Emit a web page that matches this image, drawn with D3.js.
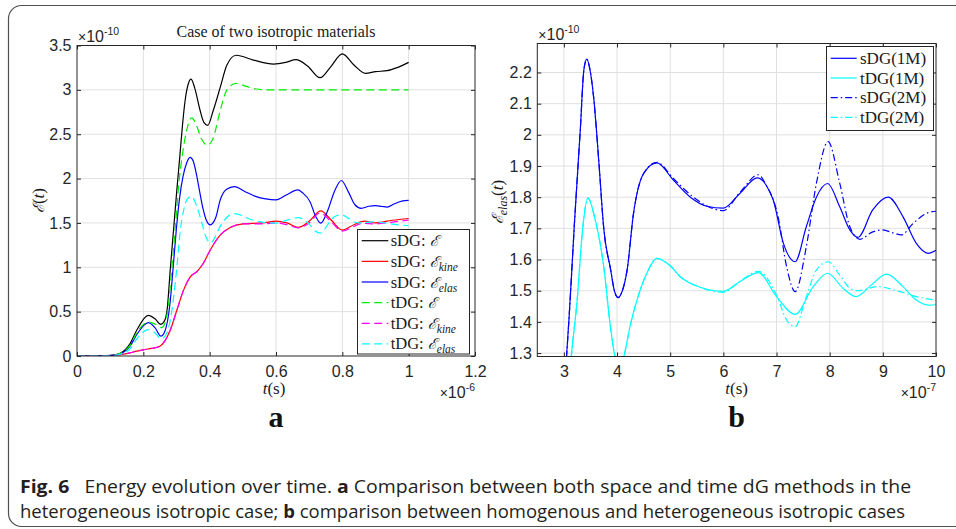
<!DOCTYPE html>
<html><head><meta charset="utf-8">
<script src="https://cdn.jsdelivr.net/npm/d3@7"></script>
<style>body{margin:0;background:#fff}svg{display:block}</style>
</head><body>
<svg id="c" width="956" height="529"></svg>
<script>
// ---------- DATA : panel a (t in 1e-6 s, energy in 1e-10) ----------
const sdgTotal = [[0,0],[0.05,0],[0.1,0.006],[0.13,0.03],[0.16,0.14],[0.18,0.29],[0.215,0.458],[0.235,0.42],[0.253,0.357],[0.263,0.39],[0.272,0.53],[0.281,0.966],[0.291,1.418],[0.301,1.87],[0.31,2.25],[0.318,2.6],[0.326,2.88],[0.335,3.06],[0.344,3.12],[0.355,3.02],[0.371,2.77],[0.383,2.63],[0.394,2.6],[0.411,2.77],[0.432,3.03],[0.452,3.28],[0.48,3.39],[0.532,3.336],[0.593,3.29],[0.63,3.31],[0.66,3.34],[0.695,3.27],[0.733,3.137],[0.765,3.26],[0.8,3.405],[0.835,3.28],[0.87,3.186],[0.9,3.205],[0.935,3.216],[0.965,3.25],[1.0,3.31]];
const sdgKine = [[0,0],[0.05,0],[0.1,0.004],[0.13,0.015],[0.16,0.035],[0.18,0.055],[0.2,0.07],[0.225,0.085],[0.25,0.11],[0.265,0.17],[0.281,0.29],[0.301,0.515],[0.321,0.74],[0.341,0.89],[0.361,0.95],[0.38,1.04],[0.401,1.19],[0.431,1.36],[0.462,1.448],[0.5,1.49],[0.56,1.5],[0.6,1.52],[0.633,1.5],[0.667,1.45],[0.7,1.52],[0.735,1.635],[0.767,1.53],[0.8,1.42],[0.835,1.48],[0.867,1.52],[0.9,1.5],[0.95,1.53],[1.0,1.55]];
const sdgElas = [[0,0],[0.05,0],[0.1,0.004],[0.13,0.025],[0.16,0.11],[0.18,0.24],[0.215,0.376],[0.235,0.32],[0.253,0.225],[0.265,0.28],[0.28,0.58],[0.29,1.0],[0.3,1.45],[0.31,1.8],[0.32,2.03],[0.33,2.17],[0.341,2.238],[0.35,2.2],[0.36,2.05],[0.37,1.85],[0.38,1.66],[0.39,1.53],[0.402,1.478],[0.41,1.5],[0.419,1.567],[0.431,1.748],[0.45,1.876],[0.475,1.91],[0.506,1.855],[0.538,1.8],[0.569,1.771],[0.6,1.76],[0.631,1.815],[0.666,1.872],[0.68,1.84],[0.703,1.737],[0.719,1.577],[0.735,1.497],[0.756,1.641],[0.775,1.844],[0.797,1.978],[0.819,1.844],[0.838,1.705],[0.857,1.665],[0.88,1.688],[0.9,1.695],[0.92,1.685],[0.935,1.679],[0.957,1.716],[0.982,1.748],[1.0,1.755]];
const tdgTotal = [[0,0],[0.05,0],[0.1,0.006],[0.13,0.03],[0.16,0.12],[0.18,0.26],[0.215,0.383],[0.235,0.36],[0.255,0.32],[0.265,0.37],[0.275,0.55],[0.285,0.95],[0.296,1.42],[0.306,1.9],[0.319,2.3],[0.331,2.55],[0.346,2.685],[0.36,2.6],[0.375,2.45],[0.393,2.377],[0.41,2.45],[0.432,2.77],[0.452,3.0],[0.48,3.073],[0.51,3.04],[0.54,3.01],[0.58,3.0],[0.7,3.0],[0.85,3.0],[1.0,3.0]];
const tdgKine = [[0,0],[0.05,0],[0.1,0.004],[0.13,0.015],[0.16,0.035],[0.18,0.055],[0.2,0.07],[0.225,0.085],[0.25,0.11],[0.265,0.17],[0.281,0.29],[0.301,0.515],[0.321,0.74],[0.341,0.89],[0.361,0.95],[0.38,1.04],[0.401,1.19],[0.431,1.36],[0.462,1.448],[0.5,1.49],[0.56,1.49],[0.6,1.5],[0.633,1.48],[0.667,1.444],[0.7,1.5],[0.733,1.613],[0.767,1.51],[0.8,1.407],[0.835,1.46],[0.86,1.495],[0.9,1.489],[0.95,1.51],[1.0,1.533]];
const tdgElas = [[0,0],[0.05,0],[0.1,0.003],[0.13,0.02],[0.16,0.08],[0.18,0.19],[0.215,0.297],[0.235,0.26],[0.255,0.195],[0.27,0.25],[0.281,0.4],[0.291,0.65],[0.301,1.0],[0.311,1.4],[0.322,1.65],[0.333,1.77],[0.345,1.8],[0.36,1.7],[0.375,1.52],[0.39,1.33],[0.403,1.275],[0.415,1.33],[0.43,1.45],[0.45,1.556],[0.475,1.604],[0.5,1.58],[0.52,1.545],[0.55,1.515],[0.6,1.498],[0.631,1.529],[0.666,1.56],[0.7,1.486],[0.719,1.406],[0.735,1.385],[0.756,1.481],[0.775,1.566],[0.797,1.593],[0.819,1.55],[0.838,1.508],[0.853,1.5],[0.89,1.513],[0.932,1.497],[0.963,1.481],[1.0,1.47]];

// ---------- DATA : panel b (t in 1e-7 s, energy in 1e-10) ----------
const sdg1M = [[2.95,1.1],[3.05,1.29],[3.1,1.42],[3.2,1.72],[3.31,2.02],[3.375,2.207],[3.43,2.243],[3.5,2.2],[3.56,2.12],[3.66,1.908],[3.75,1.7],[3.88,1.567],[3.95,1.5],[4.02,1.478],[4.1,1.5],[4.19,1.567],[4.31,1.748],[4.5,1.876],[4.75,1.91],[5.06,1.855],[5.38,1.8],[5.69,1.771],[6.0,1.765],[6.31,1.812],[6.64,1.862],[6.8,1.84],[6.94,1.79],[7.13,1.652],[7.35,1.593],[7.56,1.705],[7.75,1.8],[7.96,1.844],[8.19,1.769],[8.38,1.695],[8.53,1.671],[8.81,1.759],[9.1,1.8],[9.38,1.737],[9.63,1.652],[9.85,1.62],[10,1.63]];
const tdg1M = [[3.05,1.1],[3.14,1.29],[3.25,1.47],[3.345,1.684],[3.45,1.797],[3.59,1.727],[3.75,1.577],[3.875,1.385],[3.96,1.29],[4.04,1.255],[4.13,1.29],[4.25,1.39],[4.375,1.47],[4.56,1.556],[4.75,1.604],[5.0,1.58],[5.19,1.545],[5.5,1.515],[6.0,1.498],[6.31,1.529],[6.66,1.558],[7.0,1.481],[7.35,1.424],[7.69,1.513],[7.96,1.556],[8.25,1.508],[8.5,1.481],[8.78,1.518],[9.07,1.553],[9.38,1.513],[9.63,1.47],[9.85,1.454],[10,1.455]];
const sdg2M = [[2.95,1.1],[3.05,1.29],[3.1,1.42],[3.2,1.72],[3.31,2.02],[3.375,2.207],[3.43,2.243],[3.5,2.2],[3.56,2.12],[3.66,1.908],[3.75,1.7],[3.88,1.567],[3.95,1.5],[4.02,1.478],[4.1,1.5],[4.19,1.567],[4.31,1.748],[4.5,1.876],[4.75,1.912],[5.06,1.86],[5.38,1.808],[5.69,1.772],[6.0,1.757],[6.31,1.815],[6.66,1.872],[6.8,1.84],[7.03,1.737],[7.19,1.577],[7.35,1.497],[7.56,1.641],[7.75,1.844],[7.97,1.978],[8.19,1.844],[8.38,1.705],[8.57,1.665],[8.8,1.688],[9.0,1.695],[9.2,1.685],[9.35,1.679],[9.57,1.716],[9.82,1.748],[10,1.755]];
const tdg2M = [[3.05,1.1],[3.14,1.29],[3.25,1.47],[3.345,1.684],[3.45,1.797],[3.59,1.727],[3.75,1.577],[3.875,1.385],[3.96,1.29],[4.04,1.255],[4.13,1.29],[4.25,1.39],[4.375,1.47],[4.56,1.556],[4.75,1.604],[5.0,1.58],[5.19,1.545],[5.5,1.515],[6.0,1.495],[6.31,1.53],[6.66,1.562],[7.0,1.486],[7.19,1.406],[7.35,1.385],[7.56,1.481],[7.75,1.566],[7.97,1.593],[8.19,1.55],[8.38,1.508],[8.53,1.5],[8.9,1.513],[9.32,1.497],[9.63,1.481],[10,1.47]];

// ---------- ticks & labels ----------
const xTicksA = [0,0.2,0.4,0.6,0.8,1,1.2];
const yTicksA = [0,0.5,1,1.5,2,2.5,3,3.5];
const xTicksB = [3,4,5,6,7,8,9,10];
const yTicksB = [1.3,1.4,1.5,1.6,1.7,1.8,1.9,2,2.1,2.2];
const legendA = [['sDG',''],['sDG','kine'],['sDG','elas'],['tDG',''],['tDG','kine'],['tDG','elas']];
const legendB = ['sDG(1M)','tDG(1M)','sDG(2M)','tDG(2M)'];
const titleA = 'Case of two isotropic materials';
const expA = ['-10','-6'], expB = ['-10','-7'];
const caption1 = [['Fig. 6',true],['   Energy evolution over time. ',false],['a',true],[' Comparison between both space and time dG methods in the',false]];
const caption2 = [['heterogeneous isotropic case; ',false],['b',true],[' comparison between homogenous and heterogeneous isotropic cases',false]];

// ---------- drawing ----------
const svg = d3.select('#c');
const SANS = 'Liberation Sans, Arial, sans-serif';
const SERIF = 'Liberation Serif, Times New Roman, serif';
const AX = '#262626';

svg.append('rect').attr('x',8.5).attr('y',5.5).attr('width',1000).attr('height',521)
  .attr('rx',13).attr('fill','none').attr('stroke','#505050').attr('stroke-width',1.2);

const xA = d3.scaleLinear([0,1.2],[77,475]);
const yA = d3.scaleLinear([0,3.5],[356,45.5]);
const xB = d3.scaleLinear([2.5,10],[537.3,936]);
const yB = d3.scaleLinear([1.289,2.293],[356.5,43.5]);

function panel(id, x, y, xt, yt) {
  const [X0,X1] = x.range(), [Y0,Y1] = y.range();
  const g = svg.append('g');
  g.append('g').selectAll('line').data(xt.filter(d=>x(d)>X0+0.5 && x(d)<X1-0.5)).join('line')
    .attr('x1',d=>x(d)).attr('x2',d=>x(d)).attr('y1',Y0).attr('y2',Y1).attr('stroke','#e0e0e0');
  g.append('g').selectAll('line').data(yt.filter(d=>y(d)<Y0-0.5 && y(d)>Y1+0.5)).join('line')
    .attr('y1',d=>y(d)).attr('y2',d=>y(d)).attr('x1',X0).attr('x2',X1).attr('stroke','#e0e0e0');
  svg.append('clipPath').attr('id',id).append('rect').attr('x',X0).attr('y',Y1).attr('width',X1-X0).attr('height',Y0-Y1);
  const lines = svg.append('g').attr('clip-path',`url(#${id})`);
  return {g, lines};
}
function frame(x, y, xt, yt) {
  const [X0,X1] = x.range(), [Y0,Y1] = y.range();
  const st = s => s.attr('font-family',SANS).attr('font-size',16).style('color',AX)
                   .call(a=>a.select('.domain').remove());
  svg.append('g').attr('transform',`translate(0,${Y0})`)
    .call(d3.axisBottom(x).tickValues(xt).tickFormat(d=>String(d)).tickSize(-4).tickPadding(9.5)).call(st);
  svg.append('g').attr('transform',`translate(0,${Y1})`)
    .call(d3.axisTop(x).tickValues(xt).tickFormat('').tickSize(-4)).call(st);
  svg.append('g').attr('transform',`translate(${X0},0)`)
    .call(d3.axisLeft(y).tickValues(yt).tickFormat(d=>String(d)).tickSize(-4).tickPadding(5.5)).call(st);
  svg.append('g').attr('transform',`translate(${X1},0)`)
    .call(d3.axisRight(y).tickValues(yt).tickFormat('').tickSize(-4)).call(st);
  svg.append('rect').attr('x',X0).attr('y',Y1).attr('width',X1-X0).attr('height',Y0-Y1)
    .attr('fill','none').attr('stroke',AX).attr('stroke-width',1);
}
function curve(layer, x, y, data, color, dash) {
  const line = d3.line().x(d=>x(d[0])).y(d=>y(d[1])).curve(d3.curveMonotoneX);
  layer.append('path').attr('d',line(data)).attr('fill','none').attr('stroke',color)
    .attr('stroke-width',1.2).attr('stroke-dasharray',dash||null);
}
function expLabel(xp, yp, exp, anchor) {
  const t = svg.append('text').attr('x',xp).attr('y',yp).attr('font-family',SANS).attr('fill',AX)
    .attr('text-anchor',anchor);
  t.append('tspan').attr('font-size',14).text('\u00d7');
  t.append('tspan').attr('font-size',16).text('10');
  t.append('tspan').attr('font-size',10.5).attr('dy',-7.5).text(exp);
}
const DASH = '8,4.5', DASHDOT = '7,3,1.5,3';

// ----- panel a -----
const pa = panel('clipA', xA, yA, xTicksA, yTicksA);
const seriesA = [sdgTotal, sdgKine, sdgElas, tdgTotal, tdgKine, tdgElas];
const colA = ['#000000','#ff0000','#0000ff','#00ee00','#ff00ff','#00ffff'];
const dashA = [null,null,null,DASH,DASH,DASH];
seriesA.forEach((s,i)=>curve(pa.lines, xA, yA, s, colA[i], dashA[i]));
frame(xA, yA, xTicksA, yTicksA);

svg.append('text').attr('x',276).attr('y',36.5).attr('text-anchor','middle')
  .attr('font-family',SERIF).attr('font-size',16).attr('fill','#1a1a1a').text(titleA);
expLabel(78, 42, expA[0], 'start');
expLabel(475, 398, expA[1], 'end');

// legend a
const lgA = svg.append('g');
lgA.append('rect').attr('x',357.5).attr('y',229.5).attr('width',112).attr('height',124.5)
  .attr('fill','#fff').attr('stroke',AX);
legendA.forEach((d,i)=>{
  const cy = 240.7 + i*20.65;
  lgA.append('line').attr('x1',361.7).attr('x2',388.3).attr('y1',cy).attr('y2',cy)
    .attr('stroke',colA[i]).attr('stroke-width',1.2).attr('stroke-dasharray',dashA[i]);
  const t = lgA.append('text').attr('x',390.7).attr('y',cy+5.5).attr('font-family',SERIF)
    .attr('font-size',16.5).attr('fill','#1a1a1a');
  t.append('tspan').text(d[0]+': ');
  t.append('tspan').attr('font-family','DejaVu Serif, serif').attr('font-style','italic').attr('font-size',15).text('\u2130');
  if (d[1]) t.append('tspan').attr('font-style','italic').attr('font-size',11.5).attr('dy',4).text(d[1]);
});

// axis labels a
{
  const t = svg.append('text').attr('x',274).attr('y',393.5).attr('text-anchor','middle')
    .attr('font-family',SERIF).attr('font-size',17).attr('fill','#1a1a1a');
  t.append('tspan').attr('font-style','italic').text('t');
  t.append('tspan').text('(s)');
  const g = svg.append('g').attr('transform','translate(44,200.5) rotate(-90)');
  const u = g.append('text').attr('text-anchor','middle').attr('font-family',SERIF)
    .attr('font-size',17).attr('fill','#1a1a1a');
  u.append('tspan').attr('font-family','DejaVu Serif, serif').attr('font-style','italic').attr('font-size',15.5).text('\u2130');
  u.append('tspan').text('(');
  u.append('tspan').attr('font-style','italic').text('t');
  u.append('tspan').text(')');
  svg.append('text').attr('x',276).attr('y',427).attr('text-anchor','middle')
    .attr('font-family',SERIF).attr('font-weight','bold').attr('font-size',30).attr('fill','#111').text('a');
}

// ----- panel b -----
const pb = panel('clipB', xB, yB, xTicksB, yTicksB);
const seriesB = [sdg1M, tdg1M, sdg2M, tdg2M];
const colB = ['#0000ff','#00ffff','#0000ff','#00ffff'];
const dashB = [null,null,DASHDOT,DASHDOT];
seriesB.forEach((s,i)=>curve(pb.lines, xB, yB, s, colB[i], dashB[i]));
frame(xB, yB, xTicksB, yTicksB);
expLabel(538.3, 40, expB[0], 'start');
expLabel(936, 398, expB[1], 'end');

const lgB = svg.append('g');
lgB.append('rect').attr('x',826.5).attr('y',46.5).attr('width',107).attr('height',84)
  .attr('fill','#fff').attr('stroke',AX);
legendB.forEach((d,i)=>{
  const cy = 58.3 + i*19.67;
  lgB.append('line').attr('x1',830.7).attr('x2',856.7).attr('y1',cy).attr('y2',cy)
    .attr('stroke',colB[i]).attr('stroke-width',1.2).attr('stroke-dasharray',dashB[i]);
  lgB.append('text').attr('x',860).attr('y',cy+5.8).attr('font-family',SERIF)
    .attr('font-size',17).attr('fill','#1a1a1a').text(d);
});
{
  const t = svg.append('text').attr('x',736.7).attr('y',393.5).attr('text-anchor','middle')
    .attr('font-family',SERIF).attr('font-size',17).attr('fill','#1a1a1a');
  t.append('tspan').attr('font-style','italic').text('t');
  t.append('tspan').text('(s)');
  const g = svg.append('g').attr('transform','translate(503,202) rotate(-90)');
  const u = g.append('text').attr('text-anchor','middle').attr('font-family',SERIF)
    .attr('font-size',17).attr('fill','#1a1a1a');
  u.append('tspan').attr('font-family','DejaVu Serif, serif').attr('font-style','italic').attr('font-size',15.5).text('\u2130');
  u.append('tspan').attr('font-style','italic').attr('font-size',12).attr('dy',4).text('elas');
  u.append('tspan').attr('dy',-4).text('(');
  u.append('tspan').attr('font-style','italic').text('t');
  u.append('tspan').text(')');
  svg.append('text').attr('x',736.7).attr('y',427).attr('text-anchor','middle')
    .attr('font-family',SERIF).attr('font-weight','bold').attr('font-size',30).attr('fill','#111').text('b');
}

// ----- caption -----
function captionLine(parts, yp, target) {
  const g = svg.append('g').attr('transform',`translate(20,${yp})`);
  const t = g.append('text').attr('font-family','Open Sans, Noto Sans, sans-serif').attr('font-size',18)
    .attr('fill','#231f20').style('white-space','pre');
  parts.forEach(p=>t.append('tspan').attr('font-weight',p[1]?'bold':'normal').text(p[0]));
  const w = t.node().getComputedTextLength();
  if (w>0) g.attr('transform',`translate(20,${yp}) scale(${target/w},1)`);
}
captionLine(caption1, 493, 892);
captionLine(caption2, 518, 885);
</script>
</body></html>
